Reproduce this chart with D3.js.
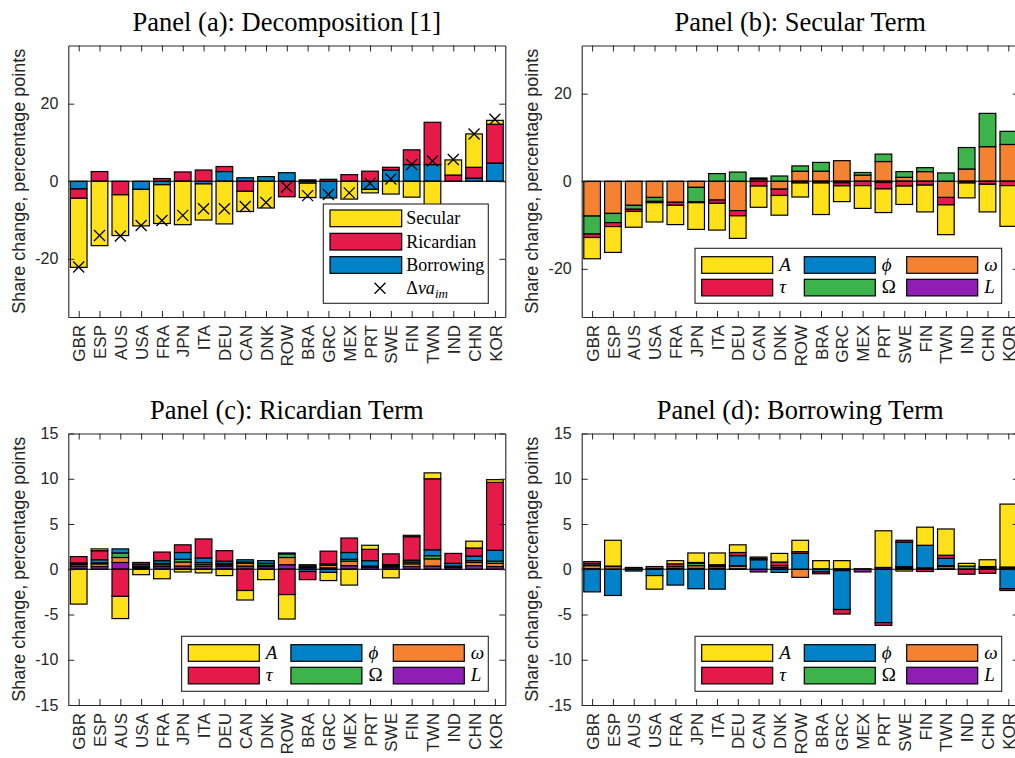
<!DOCTYPE html>
<html>
<head>
<meta charset="utf-8">
<script src="https://cdn.jsdelivr.net/npm/d3@7"></script>
<style>
  html, body { margin: 0; padding: 0; background: #fff; }
  svg { display: block; }
</style>
</head>
<body>
<svg id="chart" width="1015" height="758"></svg>
<script>
// Country order on the x axis
const countries = ["GBR","ESP","AUS","USA","FRA","JPN","ITA","DEU","CAN","DNK","ROW",
                   "BRA","GRC","MEX","PRT","SWE","FIN","TWN","IND","CHN","KOR"];

// Panel (a): decomposition into secular, Ricardian and borrowing terms
const secular   = [-17.8,-16.6,-10.5,-9.4,-10.0,-11.2,-9.3,-11.0,-5.2,-6.9,0,-3.7,0,-4.6,-0.9,-3.3,-4.1,-10.0,3.9,8.6,1.0];
const ricardian = [-2.4,2.5,-3.5,0,0.7,2.4,2.9,1.3,-2.6,0,-4.0,0.35,0.5,1.7,2.6,0.7,3.8,10.9,1.6,2.8,10.0];
const borrowing = [-2.0,0,0,-2.1,-0.9,0,-0.7,2.5,0.9,1.2,2.2,-0.5,-4.3,0,-2.1,2.9,4.3,4.3,0,0.8,4.7];
const deltaVaIm = [-22.1,-14.0,-14.1,-11.4,-10.1,-8.8,-7.1,-7.1,-6.5,-5.5,-1.5,-3.7,-3.4,-3.0,-0.5,0.6,4.3,5.2,5.6,12.2,16.0];

// Panel (b): secular term by component
const secA     = [-4.85,-5.9,-3.6,-4.4,-4.4,-6.1,-6.1,-5.15,-4.85,-4.5,-3.2,-7.2,-3.6,-5.2,-5.4,-4.2,-6.1,-6.8,-3.4,-6.3,-9.3];
const secTau   = [-0.8,-0.9,-0.5,-0.3,-0.7,-0.2,-0.75,-1.2,-1.1,-1.45,-0.4,-0.4,-0.7,-1.0,-1.45,-1.1,-0.9,-1.7,-0.4,-0.7,-1.0];
const secPhi   = [0,0,0,0,0,0,0,0,0,0,0,0,-0.35,0,-0.3,0,0,0,0,0,0];
const secOmegaU= [-4.1,-2.1,-0.9,-0.9,0,-3.3,1.75,2.1,0.25,1.2,1.2,2.0,0,0.6,1.7,1.3,0.9,1.9,4.9,7.6,3.0];
const secOmega = [-7.95,-7.35,-5.5,-3.7,-4.8,-1.4,-4.3,-6.7,0.5,-1.8,2.3,2.3,4.7,1.4,4.5,0.9,2.2,-3.7,2.8,7.9,8.4];
const secL     = [0,0,0,0,0,0,0,0,0,0,0,0,0,0,0,0,0,0,0,0,0];

// Panel (c): Ricardian term by component
const ricA     = [-3.85,0.2,-2.45,-0.6,-1.05,-0.3,-0.4,-0.7,-1.05,-1.15,-2.7,0,-0.9,-1.75,0.45,-0.95,0.15,0.65,0,0.75,0.3];
const ricTau   = [0.7,1.0,-3.0,0.2,0.95,0.85,2.1,1.15,-2.35,0,-2.8,-0.9,1.4,1.6,1.25,1.2,2.6,7.85,1.1,0.9,7.5];
const ricPhi   = [0.1,0.35,0.45,0.2,0.3,0.75,0.5,0.25,0.25,0.3,0.1,-0.25,-0.35,0.75,0.6,0.05,0.2,0.65,0.3,0.5,1.2];
const ricOmegaU= [0.1,0.1,0.5,0.1,0.15,0.3,0.2,0.15,0.15,0.2,0.4,0.15,0.15,0.2,0.05,0.1,0.2,0.35,0.05,0.2,0.25];
const ricOmega = [0.2,0.3,0.55,0.1,0.2,0.45,0.2,0.15,0.3,0.15,0.8,0.15,0.3,0.5,0.05,0.1,0.3,0.8,0.1,0.35,0.35];
const ricL     = [0.3,0.3,0.75,0.15,0.3,0.35,0.35,0.35,0.35,0.3,0.5,0.2,0.15,0.4,0.25,0.25,0.3,0.35,0.2,0.4,0.3];

// Panel (d): borrowing term by component
const borA     = [0,2.85,0.15,-1.5,0.35,1.05,1.3,0.85,0.15,0.95,1.25,0.9,0.9,0,4.05,-0.2,2.0,2.9,0.3,0.75,6.95];
const borTau   = [0.25,0,0,0,0.3,0.1,0.15,0.35,0.15,0.4,0.2,-0.2,-0.5,0,-0.3,0.2,-0.25,0.35,-0.55,-0.45,-0.2];
const borPhi   = [-2.5,-2.9,-0.2,-0.7,-1.75,-2.15,-2.2,1.1,1.05,-0.35,1.75,-0.3,-4.3,0,-5.9,2.7,2.5,0.8,0,0,-2.15];
const borOmegaU= [0.2,0.05,0,0,0,0.25,0.05,0.05,0,0,0,0,-0.15,0,0,0.05,0,0.1,0.35,0.1,0.1];
const borOmega = [0.35,0.3,0,0.2,0.2,0.3,0.2,0.3,0,0.2,-0.9,0,0,0.05,0,0.1,0.05,0.25,0,0.1,0.1];
const borL     = [0.05,0,0.05,0.1,0.1,0.1,0.1,0.05,-0.3,0.2,0,0.05,0.05,-0.3,0.2,0.15,0.1,0.05,0,0.1,0.05];

// Tick labels
const yTicksTop    = [-20, 0, 20];
const yTicksBottom = [-15, -10, -5, 0, 5, 10, 15];

// Palette
const C = { yellow:"#ffe119", red:"#e6194b", blue:"#0082c8", green:"#3cb44b", orange:"#f58231", purple:"#911eb4" };

const componentSeries = (A, tau, phi, OmU, om, L) => [
  { values: A,   color: C.yellow },
  { values: tau, color: C.red },
  { values: phi, color: C.blue },
  { values: OmU, color: C.green },
  { values: om,  color: C.orange },
  { values: L,   color: C.purple }
];

const AX = "#262626";
const axW = 437, axH = 271.5;

const panels = [
  { left: 68.3,  top: 45.5,  ylim: [-35, 35], ticks: yTicksTop, title: "Panel (a): Decomposition [1]",
    series: [ { values: secular, color: C.yellow }, { values: ricardian, color: C.red }, { values: borrowing, color: C.blue } ],
    markers: deltaVaIm, legend: "three" },
  { left: 581.7, top: 45.5,  ylim: [-31, 31], ticks: yTicksTop, title: "Panel (b): Secular Term",
    series: componentSeries(secA, secTau, secPhi, secOmegaU, secOmega, secL), legend: "grid" },
  { left: 68.3,  top: 433.5, ylim: [-15, 15], ticks: yTicksBottom, title: "Panel (c): Ricardian Term",
    series: componentSeries(ricA, ricTau, ricPhi, ricOmegaU, ricOmega, ricL), legend: "grid" },
  { left: 581.7, top: 433.5, ylim: [-15, 15], ticks: yTicksBottom, title: "Panel (d): Borrowing Term",
    series: componentSeries(borA, borTau, borPhi, borOmegaU, borOmega, borL), legend: "grid" }
];

const svg = d3.select("#chart");
svg.append("rect").attr("width", 1015).attr("height", 758).attr("fill", "#fff");

const xMark = "M-5.5,-5.5L5.5,5.5M-5.5,5.5L5.5,-5.5";

panels.forEach(p => {
  const g = svg.append("g");
  const x = d3.scaleLinear().domain([0.5, countries.length + 0.5]).range([p.left, p.left + axW]);
  const y = d3.scaleLinear().domain(p.ylim).range([p.top + axH, p.top]);
  const bw = x(0.8) - x(0);

  // stacked bars: the last series sits next to zero, positives up and negatives down
  countries.forEach((c, i) => {
    let pos = 0, neg = 0;
    for (let s = p.series.length - 1; s >= 0; s--) {
      const v = p.series[s].values[i];
      if (!v) continue;
      let y0, y1;
      if (v > 0) { y0 = pos; y1 = pos + v; pos = y1; }
      else { y0 = neg; y1 = neg + v; neg = y1; }
      g.append("rect")
        .attr("x", x(i + 1) - bw / 2)
        .attr("width", bw)
        .attr("y", y(Math.max(y0, y1)))
        .attr("height", Math.abs(y(y0) - y(y1)))
        .attr("fill", p.series[s].color)
        .attr("stroke", "#000")
        .attr("stroke-width", 1.2);
    }
  });

  // zero baseline
  g.append("line")
    .attr("x1", p.left).attr("x2", p.left + axW)
    .attr("y1", y(0)).attr("y2", y(0))
    .attr("stroke", "#000").attr("stroke-width", 1.2);

  if (p.markers) {
    g.selectAll("path.mk").data(p.markers).join("path")
      .attr("class", "mk")
      .attr("d", xMark)
      .attr("transform", (d, i) => `translate(${x(i + 1)},${y(d)})`)
      .attr("fill", "none").attr("stroke", "#000").attr("stroke-width", 1.3);
  }

  // axes box with inward ticks
  const idx = d3.range(1, countries.length + 1);
  const fmt = d => String(d);
  const left = g.append("g").attr("transform", `translate(${p.left},0)`)
    .call(d3.axisLeft(y).tickValues(p.ticks).tickFormat(fmt).tickSizeInner(-6).tickSizeOuter(0).tickPadding(10));
  const right = g.append("g").attr("transform", `translate(${p.left + axW},0)`)
    .call(d3.axisRight(y).tickValues(p.ticks).tickFormat("").tickSizeInner(-6).tickSizeOuter(0));
  const top = g.append("g").attr("transform", `translate(0,${p.top})`)
    .call(d3.axisTop(x).tickValues(idx).tickFormat("").tickSizeInner(-6).tickSizeOuter(0));
  const bottom = g.append("g").attr("transform", `translate(0,${p.top + axH})`)
    .call(d3.axisBottom(x).tickValues(idx).tickFormat(d => countries[d - 1]).tickSizeInner(-6).tickSizeOuter(0));

  [left, right, top, bottom].forEach(a => {
    a.selectAll("path.domain").attr("stroke", AX).attr("stroke-width", 1.1);
    a.selectAll(".tick line").attr("stroke", AX).attr("stroke-width", 1);
  });
  left.selectAll("text")
    .attr("fill", AX).style("font-family", "'Liberation Sans', Arial, sans-serif").style("font-size", "16px");
  bottom.selectAll("text")
    .attr("fill", AX)
    .style("font-family", "'Liberation Sans', Arial, sans-serif").style("font-size", "17px")
    .attr("transform", "rotate(-90)")
    .attr("text-anchor", "end")
    .attr("x", -8).attr("y", 0).attr("dy", "0.36em");

  // y label
  g.append("text")
    .attr("transform", `translate(${p.left - 43.8},${p.top + axH / 2}) rotate(-90)`)
    .attr("text-anchor", "middle")
    .attr("fill", AX)
    .style("font-family", "'Liberation Sans', Arial, sans-serif").style("font-size", "18px")
    .text("Share change, percentage points");

  // title
  g.append("text")
    .attr("x", p.left + axW / 2).attr("y", p.top - 14.5)
    .attr("text-anchor", "middle")
    .attr("fill", "#000")
    .style("font-family", "'Liberation Serif', 'Times New Roman', serif").style("font-size", "26.5px")
    .text(p.title);

  // legends
  if (p.legend === "three") {
    const lx = p.left + 255, ly = p.top + 158.5;
    const lg = g.append("g");
    lg.append("rect").attr("x", lx).attr("y", ly).attr("width", 165).attr("height", 99.3)
      .attr("fill", "#fff").attr("stroke", AX).attr("stroke-width", 1.1);
    const names = ["Secular", "Ricardian", "Borrowing"];
    p.series.forEach((s, k) => {
      const ry = ly + 6 + k * 23.33;
      lg.append("rect").attr("x", lx + 6.7).attr("y", ry).attr("width", 71.7).attr("height", 16.7)
        .attr("fill", s.color).attr("stroke", "#000").attr("stroke-width", 1.2);
      lg.append("text").attr("x", lx + 83).attr("y", ry + 14.2)
        .style("font-family", "'Liberation Serif', serif").style("font-size", "18px")
        .text(names[k]);
    });
    const my = ly + 6 + 3 * 23.33 + 8.3;
    lg.append("path").attr("d", xMark).attr("transform", `translate(${lx + 56.7},${my})`)
      .attr("fill", "none").attr("stroke", "#000").attr("stroke-width", 1.3);
    const t = lg.append("text").attr("x", lx + 83).attr("y", my + 6)
      .style("font-family", "'Liberation Serif', serif").style("font-size", "18px");
    t.append("tspan").text("Δ");
    t.append("tspan").style("font-style", "italic").text("va");
    t.append("tspan").style("font-style", "italic").style("font-size", "13px").attr("dy", 4).text("im");
  } else {
    const lx = p.left + 113.3, ly = p.top + 202.8;
    const lg = g.append("g");
    lg.append("rect").attr("x", lx).attr("y", ly).attr("width", 306.7).attr("height", 55)
      .attr("fill", "#fff").attr("stroke", AX).attr("stroke-width", 1.1);
    const items = [
      { s: 0, label: "A",  italic: true,  r: 0, c: 0 },
      { s: 2, label: "ϕ",  italic: true,  r: 0, c: 1 },
      { s: 4, label: "ω",  italic: true,  r: 0, c: 2 },
      { s: 1, label: "τ",  italic: true,  r: 1, c: 0 },
      { s: 3, label: "Ω",  italic: false, r: 1, c: 1 },
      { s: 5, label: "L",  italic: true,  r: 1, c: 2 }
    ];
    const colX = [6.7, 109.3, 211.7], rowY = [8.4, 31];
    items.forEach(it => {
      const sx = lx + colX[it.c], sy = ly + rowY[it.r];
      lg.append("rect").attr("x", sx).attr("y", sy).attr("width", 71).attr("height", 16.6)
        .attr("fill", p.series[it.s].color).attr("stroke", "#000").attr("stroke-width", 1.2);
      lg.append("text").attr("x", sx + 77.5).attr("y", sy + 14)
        .style("font-family", "'Liberation Serif', serif").style("font-size", "19px")
        .style("font-style", it.italic ? "italic" : "normal")
        .text(it.label);
    });
  }
});
</script>
</body>
</html>
